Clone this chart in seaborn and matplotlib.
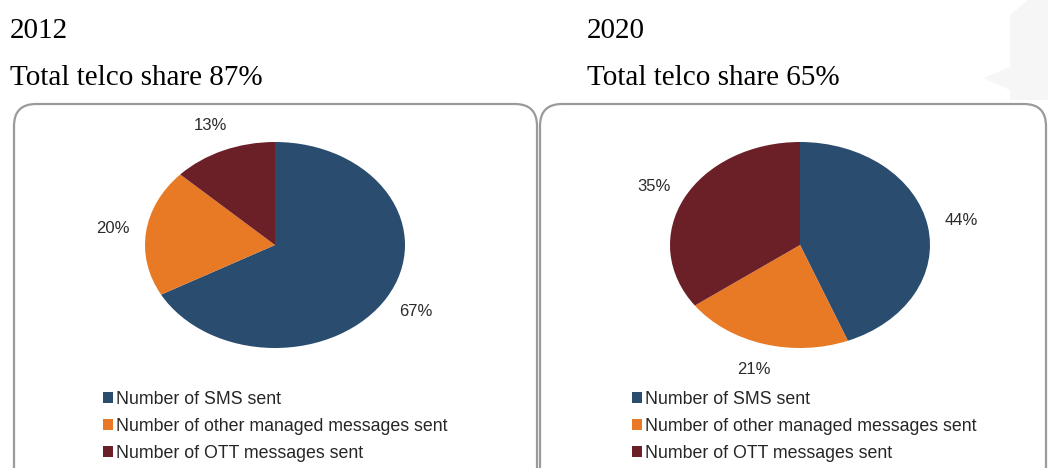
import seaborn as sns
import matplotlib.pyplot as plt
from matplotlib.patches import FancyBboxPatch, Polygon

# data
years = ["2012", "2020"]
telco_share = ["87%", "65%"]
categories = ["Number of SMS sent",
              "Number of other managed messages sent",
              "Number of OTT messages sent"]
share_2012 = [67, 20, 13]
share_2020 = [44, 21, 35]
colors = ["#2A4C6F", "#E87A25", "#6B1F26"]

sns.set_theme(style="white")
plt.rcParams['font.family'] = ['Liberation Sans', 'DejaVu Sans']

W, H = 1048, 468
fig = plt.figure(figsize=(W / 100, H / 100), dpi=100)
fig.patch.set_facecolor("white")


def px(x, y, w=0, h=0):
    # pixel box (from top-left) -> figure fraction rect
    return [x / W, 1 - (y + h) / H, w / W, h / H]


# faint watermark shape in the top right corner
wm = Polygon([(1010 / W, 1 - 15 / H), (1028 / W, 1.0), (1.0, 1.0),
              (1.0, 1 - 100 / H), (1010 / W, 1 - 100 / H),
              (1010 / W, 1 - 90 / H), (983 / W, 1 - 78 / H),
              (1010 / W, 1 - 67 / H)],
             closed=True, transform=fig.transFigure,
             facecolor="#F6F6F6", edgecolor="none", zorder=0)
fig.patches.append(wm)

# rounded panel frames (bottom is cut off by the image edge)
for x0, x1 in [(14, 537), (540, 1046)]:
    r = px(x0, 104, x1 - x0, 420)
    box = FancyBboxPatch((r[0], r[1]), r[2], r[3],
                         boxstyle="round,pad=0,rounding_size=0.021",
                         transform=fig.transFigure, mutation_aspect=W / H,
                         facecolor="none", edgecolor="#9A9A9A", linewidth=1.6,
                         zorder=1)
    fig.patches.append(box)

panels = [(share_2012, 10, 275), (share_2020, 587, 800)]
rx, ry = 130, 103
lim = 1.5
for i, (vals, tx, cx) in enumerate(panels):
    fig.text(tx / W, 1 - 38 / H, years[i], fontsize=21,
             family="Liberation Serif", color="black")
    fig.text(tx / W, 1 - 85 / H, "Total telco share " + telco_share[i],
             fontsize=21, family="Liberation Serif", color="black")

    ax = fig.add_axes(px(cx - lim * rx, 245 - lim * ry, 2 * lim * rx, 2 * lim * ry))
    wedges, _, autotexts = ax.pie(vals, colors=colors, startangle=90,
                                  counterclock=False, autopct="%.0f%%",
                                  pctdistance=1.26,
                                  wedgeprops=dict(linewidth=0),
                                  textprops=dict(fontsize=12, color="#2B2B2B"))
    ax.set_aspect("auto")
    ax.set_xlim(-lim, lim)
    ax.set_ylim(-lim, lim)
    ax.axis("off")

    lx = 103 if i == 0 else 632
    fig.legend(wedges, categories, loc="upper left",
               bbox_to_anchor=(lx / W, 1 - 391 / H), frameon=False,
               borderpad=0, borderaxespad=0, handlelength=0.55,
               handleheight=0.55, handletextpad=0.2, labelspacing=0.56,
               prop=dict(size=12.8), labelcolor="#262626")

fig.savefig("out.png", dpi=100)
plt.close()
